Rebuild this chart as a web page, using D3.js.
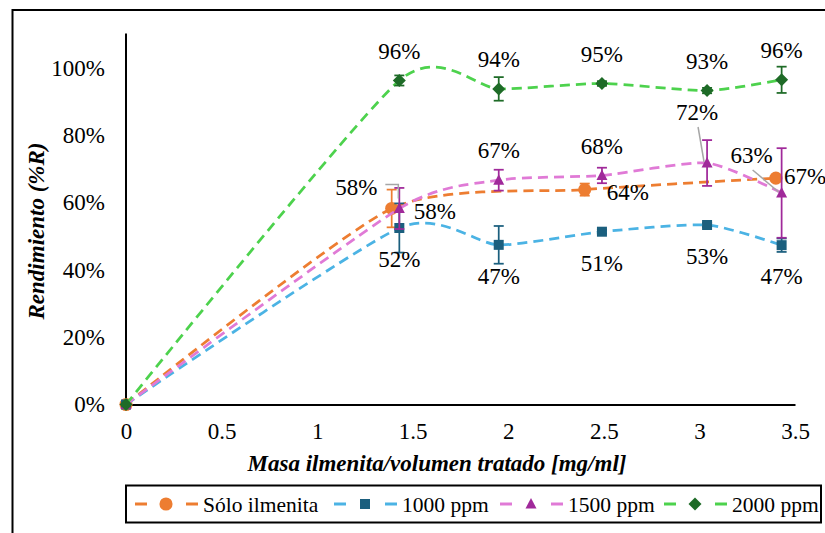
<!DOCTYPE html>
<html>
<head>
<meta charset="utf-8">
<script src="https://cdn.jsdelivr.net/npm/d3@7"></script>
<style>
  html, body { margin: 0; padding: 0; background: #fff; }
  svg { display: block; }
  svg text { font-family: "Liberation Serif", "Times New Roman", serif !important; fill: #000; }
</style>
</head>
<body>
<script>
// Mass of ilmenite per treated volume [mg/ml]
const massSolo = [0, 1.39, 2.40, 3.40];
const massDye = [0, 1.43, 1.95, 2.49, 3.04, 3.43];

// Yield (fraction) and its error for each series
const soloIlmenita = [0, 0.582, 0.638, 0.672];
const soloIlmenitaErr = [0, 0.056, 0.018, 0];
const ppm1000 = [0, 0.524, 0.474, 0.513, 0.533, 0.473];
const ppm1000Err = [0, 0.073, 0.056, 0.006, 0.006, 0.02];
const ppm1500 = [0, 0.582, 0.666, 0.680, 0.717, 0.628];
const ppm1500Err = [0, 0.061, 0.031, 0.023, 0.068, 0.133];
const ppm2000 = [0, 0.962, 0.937, 0.953, 0.932, 0.964];
const ppm2000Err = [0, 0.015, 0.035, 0.007, 0.008, 0.039];

const seriesNames = ["Sólo ilmenita", "1000 ppm", "1500 ppm", "2000 ppm"];
const xTicks = [0, 0.5, 1, 1.5, 2, 2.5, 3, 3.5];
const yTicks = [0, 0.2, 0.4, 0.6, 0.8, 1.0];

const series = [
  { name: seriesNames[0], x: massSolo, y: soloIlmenita, err: soloIlmenitaErr,
    line: "#ED7D31", mark: "#ED7D31", shape: "circle", label: "right" },
  { name: seriesNames[1], x: massDye, y: ppm1000, err: ppm1000Err,
    line: "#4BB3E4", mark: "#1B5F7E", shape: "square", label: "below" },
  { name: seriesNames[2], x: massDye, y: ppm1500, err: ppm1500Err,
    line: "#E07AD6", mark: "#A0299A", shape: "triangle", label: "above" },
  { name: seriesNames[3], x: massDye, y: ppm2000, err: ppm2000Err,
    line: "#4DD24D", mark: "#1E6B27", shape: "diamond", label: "above" }
];

// Hand-placed labels (pixel offsets from the point), some with a leader line
const labelMoves = {
  "1500 ppm": { 1: { dx: -43, dy: -22, leader: "elbow" },
                4: { dx: -10, dy: -51, leader: "straight" },
                5: { dx: -30, dy: -38, leader: "straight" } },
  "Sólo ilmenita": { 3: { dx: 8, dy: -2 } }
};

const FONT = "'Liberation Serif', 'Times New Roman', serif";
const W = 825, H = 533;
const svg = d3.select("body").append("svg").attr("width", W).attr("height", H)
  .style("font-family", FONT);

// Outer chart frame (runs past the right and bottom edges)
svg.append("rect").attr("x", 12.5).attr("y", 10).attr("width", 830).attr("height", 540)
  .attr("fill", "none").attr("stroke", "#000").attr("stroke-width", 2);

const x = d3.scaleLinear().domain([0, 3.5]).range([126, 795]);
const y = d3.scaleLinear().domain([0, 1.1]).range([404.5, 34]);

// Axes
const xAxis = svg.append("g").attr("transform", `translate(0,${y(0)})`)
  .call(d3.axisBottom(x).tickValues(xTicks).tickSize(0).tickPadding(18).tickFormat(d3.format("")));
const yAxis = svg.append("g").attr("transform", `translate(${x(0)},0)`)
  .call(d3.axisLeft(y).tickValues(yTicks).tickSize(0).tickPadding(21).tickFormat(d3.format(".0%")));
[xAxis, yAxis].forEach(g => {
  g.attr("font-family", null).attr("font-size", null);
  g.select(".domain").attr("stroke", "#000").attr("stroke-width", 2);
  g.selectAll("text").style("font-size", "23px").style("font-family", FONT).attr("fill", "#000");
});
yAxis.select(".domain").attr("d", `M0,${y(0)}V${y(1.1) - 0.5}`);

// Axis titles
svg.append("text").attr("x", 437).attr("y", 471).attr("text-anchor", "middle")
  .style("font-size", "23px").style("font-weight", "bold").style("font-style", "italic")
  .text("Masa ilmenita/volumen tratado [mg/ml]");
svg.append("text").attr("transform", "translate(44,231) rotate(-90)").attr("text-anchor", "middle")
  .style("font-size", "23px").style("font-weight", "bold").style("font-style", "italic")
  .text("Rendimiento (%R)");

const line = d3.line().curve(d3.curveCardinal.tension(0.35)).x(d => x(d[0])).y(d => y(d[1]));

// Marker shapes
const shapePath = {
  circle: d3.symbol().type(d3.symbolCircle).size(135)(),
  square: "M-5,-5H5V5H-5Z",
  triangle: "M0,-6L5.5,4.5H-5.5Z",
  diamond: "M0,-6.5L6.5,0L0,6.5L-6.5,0Z"
};

const plot = svg.append("g");
series.forEach(s => {
  const pts = s.x.map((v, i) => [v, s.y[i], s.err[i]]);
  const g = plot.append("g");
  g.append("path").attr("d", line(pts)).attr("fill", "none")
    .attr("stroke", s.line).attr("stroke-width", 2.75).attr("stroke-dasharray", "10,6");
  // error bars
  const eb = g.selectAll(".eb").data(pts.filter(p => p[2] > 0)).enter().append("g");
  eb.append("line").attr("x1", p => x(p[0])).attr("x2", p => x(p[0]))
    .attr("y1", p => y(p[1] - p[2])).attr("y2", p => y(p[1] + p[2]));
  eb.append("line").attr("x1", p => x(p[0]) - 5).attr("x2", p => x(p[0]) + 5)
    .attr("y1", p => y(p[1] + p[2])).attr("y2", p => y(p[1] + p[2]));
  eb.append("line").attr("x1", p => x(p[0]) - 5).attr("x2", p => x(p[0]) + 5)
    .attr("y1", p => y(p[1] - p[2])).attr("y2", p => y(p[1] - p[2]));
  eb.selectAll("line").attr("stroke", s.mark).attr("stroke-width", 1.75);
  // markers
  g.selectAll(".m").data(pts).enter().append("path")
    .attr("transform", p => `translate(${x(p[0])},${y(p[1])})`)
    .attr("d", shapePath[s.shape]).attr("fill", s.mark);
});

// Value labels
const fmt = d3.format(".0%");
const labels = svg.append("g");
series.forEach(s => {
  const moves = labelMoves[s.name] || {};
  s.x.forEach((xv, i) => {
    if (i === 0) return;
    const px = x(xv), py = y(s.y[i]);
    let lx = px, ly = py, anchor = "middle";
    if (s.label === "above") ly = py - 30;
    else if (s.label === "below") ly = py + 31;
    else { lx = px + 22; ly = py + 2; anchor = "start"; }
    const mv = moves[i];
    if (mv) {
      lx = px + mv.dx; ly = py + mv.dy;
      if (mv.leader === "elbow") {
        labels.append("path").attr("d", `M${lx + 29},${ly - 2}H${px - 1}V${py - 10}`)
          .attr("fill", "none").attr("stroke", "#A6A6A6").attr("stroke-width", 1.5);
      } else if (mv.leader === "straight") {
        labels.append("line").attr("x1", lx + 1).attr("y1", ly + 15)
          .attr("x2", px - 3).attr("y2", py - 1)
          .attr("stroke", "#A6A6A6").attr("stroke-width", 1.5);
      }
    }
    labels.append("text").attr("x", lx).attr("y", ly).attr("dy", "0.35em")
      .attr("text-anchor", anchor).style("font-size", "23px").text(fmt(s.y[i]));
  });
});

// Legend
const leg = svg.append("g");
leg.append("rect").attr("x", 126).attr("y", 485.5).attr("width", 695).attr("height", 37)
  .attr("fill", "#fff").attr("stroke", "#000").attr("stroke-width", 2);
const legX = [135, 334, 500, 664];
series.forEach((s, i) => {
  const gx = legX[i], gy = 504;
  const it = leg.append("g").attr("transform", `translate(${gx},${gy})`);
  it.append("line").attr("x1", 0).attr("x2", 12).attr("y1", 0).attr("y2", 0)
    .attr("stroke", s.line).attr("stroke-width", 3);
  it.append("line").attr("x1", 51).attr("x2", 63).attr("y1", 0).attr("y2", 0)
    .attr("stroke", s.line).attr("stroke-width", 3);
  it.append("path").attr("transform", "translate(31,0)").attr("d", shapePath[s.shape]).attr("fill", s.mark);
  it.append("text").attr("x", 68).attr("y", 0).attr("dy", "0.35em").style("font-size", "21.5px").text(s.name);
});
</script>
</body>
</html>
